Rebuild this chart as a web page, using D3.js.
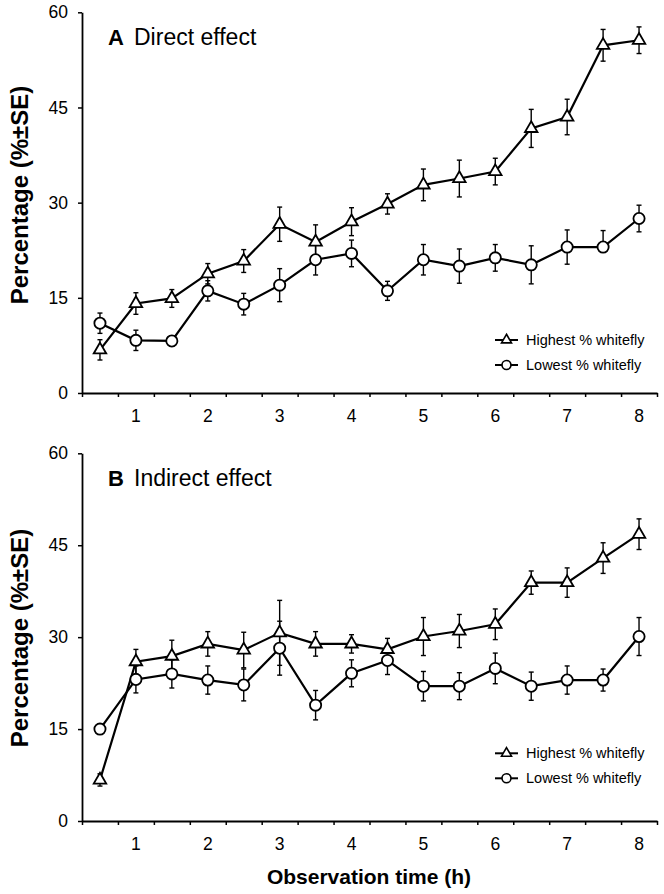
<!DOCTYPE html>
<html><head><meta charset="utf-8">
<script src="https://cdn.jsdelivr.net/npm/d3@7"></script>
<style>body{margin:0;background:#fff}svg{display:block}text{font-family:"Liberation Sans",Arial,sans-serif;fill:#000}</style>
</head><body>
<script>
const hours = ["0.5","1","1.5","2","2.5","3","3.5","4","4.5","5","5.5","6","6.5","7","7.5","8"];
const yTicks = [0,15,30,45,60];
const seriesNames = ["Highest % whitefly","Lowest % whitefly"];

const aHigh   = [6.8,14.1,14.9,18.8,20.8,26.6,23.8,27.0,29.8,32.8,33.8,34.9,41.7,43.5,54.8,55.6];
const aHighSE = [1.6,1.7,1.4,1.6,1.8,2.7,2.7,2.2,1.6,2.5,2.9,2.1,3.0,2.8,2.5,2.1];
const aLow    = [11.0,8.3,8.2,16.1,14.0,17.0,21.0,22.0,16.1,21.0,20.0,21.3,20.2,23.0,23.0,27.5];
const aLowSE  = [1.6,1.6,0.8,1.6,1.7,2.6,2.4,2.1,1.5,2.4,2.7,2.1,3.0,2.7,2.6,2.1];
const aLowSELower = [1.6,1.6,0.8,1.6,1.7,2.6,2.4,2.1,1.5,2.4,2.7,2.1,3.0,2.7,0,2.1];

const bHigh   = [6.7,26.0,26.9,28.9,27.9,30.7,28.9,28.9,28.0,30.1,31.0,32.1,38.9,38.9,42.9,46.8];
const bHighSE = [1.0,2.0,2.6,2.0,2.9,5.3,2.0,1.5,1.8,3.1,2.7,2.5,1.9,2.4,2.5,2.5];
const bLow    = [15.0,23.1,24.0,23.0,22.2,28.2,18.9,24.1,26.2,22.0,22.0,24.9,22.0,23.0,23.0,30.1];
const bLowSE  = [0.5,2.2,2.3,2.3,2.6,4.4,2.4,2.2,2.3,2.4,2.2,2.5,2.3,2.3,1.8,3.1];

const W = 664, H = 894;
const svg = d3.select("body").append("svg").attr("width", W).attr("height", H);

const x = d3.scaleBand().domain(hours).range([82, 657]).paddingInner(0).paddingOuter(0);
const xBound = d3.scaleLinear().domain([0, hours.length]).range([82, 657]);

function trianglePath(s) {
  const h = s * Math.sqrt(3) / 2;
  return `M0,${-h*2/3}L${s/2},${h/3}L${-s/2},${h/3}Z`;
}

function panel(cfg) {
  const y = d3.scaleLinear().domain([0, 60]).range([cfg.y0, cfg.y60]);
  const g = svg.append("g");

  // y axis
  const ya = g.append("g").attr("transform", "translate(82,0)")
    .call(d3.axisLeft(y).tickValues(yTicks).tickSize(4).tickSizeOuter(0).tickPadding(10));
  ya.select(".domain").attr("stroke-width", 1.8);
  ya.selectAll(".tick line").attr("stroke-width", 1.5);
  ya.selectAll(".tick text").style("font-size", "17.5px").style("font-family", "Liberation Sans, Arial, sans-serif");

  // x axis: ticks at band boundaries
  const xa = g.append("g").attr("transform", `translate(0,${cfg.y0})`)
    .call(d3.axisBottom(xBound).tickValues(d3.range(0, hours.length + 1)).tickSize(4).tickSizeOuter(0).tickFormat(""));
  xa.select(".domain").attr("stroke-width", 1.8);
  xa.selectAll(".tick line").attr("stroke-width", 1.5);
  // x labels at integer hours
  const xl = g.append("g").attr("transform", `translate(0,${cfg.y0})`)
    .call(d3.axisBottom(x).tickValues(hours.filter(h => Number.isInteger(+h))).tickSize(0).tickPadding(17));
  xl.select(".domain").remove();
  xl.selectAll(".tick text").style("font-size", "17.5px").style("font-family", "Liberation Sans, Arial, sans-serif");

  // y title
  g.append("text").attr("transform", `translate(28,${cfg.titleYc}) rotate(-90)`)
    .attr("text-anchor", "middle").style("font-size", "24px").style("font-weight", "bold")
    .text("Percentage (%±SE)");

  // panel title
  g.append("text").attr("x", 108).attr("y", cfg.y60 + 33).style("font-size", "22px").style("font-weight", "bold").text(cfg.letter);
  g.append("text").attr("x", 134).attr("y", cfg.y60 + 33).style("font-size", "23px").text(cfg.title);

  const series = [
    {vals: cfg.high, up: cfg.highSE, lo: cfg.highSE, type: "tri"},
    {vals: cfg.low, up: cfg.lowSE, lo: cfg.lowSELo || cfg.lowSE, type: "circ"}
  ];
  const cx = d => x(d) + x.bandwidth() / 2;
  const line = d3.line().x((d, i) => cx(hours[i])).y(d => y(d));

  series.forEach(s => {
    g.append("path").datum(s.vals).attr("d", line).attr("fill", "none").attr("stroke", "#000").attr("stroke-width", 2.2);
  });
  series.forEach(s => {
    const eb = g.append("g").attr("stroke", "#000").attr("stroke-width", 1.4);
    s.vals.forEach((v, i) => {
      const px = cx(hours[i]);
      const top = y(v + s.up[i]), bot = y(v - s.lo[i]);
      eb.append("line").attr("x1", px).attr("x2", px).attr("y1", top).attr("y2", bot);
      if (s.up[i] > 0) eb.append("line").attr("x1", px - 2.5).attr("x2", px + 2.5).attr("y1", top).attr("y2", top);
      if (s.lo[i] > 0) eb.append("line").attr("x1", px - 2.5).attr("x2", px + 2.5).attr("y1", bot).attr("y2", bot);
    });
  });
  series.forEach(s => {
    const mg = g.append("g");
    s.vals.forEach((v, i) => {
      const px = cx(hours[i]), py = y(v);
      if (s.type === "tri") {
        mg.append("path").attr("d", trianglePath(12.5)).attr("transform", `translate(${px},${py})`)
          .attr("fill", "#fff").attr("stroke", "#000").attr("stroke-width", 1.8);
      } else {
        mg.append("circle").attr("cx", px).attr("cy", py).attr("r", 5.6)
          .attr("fill", "#fff").attr("stroke", "#000").attr("stroke-width", 1.8);
      }
    });
  });

  // legend
  const lg = g.append("g");
  seriesNames.forEach((name, i) => {
    const ly = cfg.legY + i * 25;
    lg.append("line").attr("x1", 495).attr("x2", 518).attr("y1", ly).attr("y2", ly).attr("stroke", "#000").attr("stroke-width", 2);
    if (i === 0) {
      lg.append("path").attr("d", trianglePath(10)).attr("transform", `translate(506.5,${ly})`)
        .attr("fill", "#fff").attr("stroke", "#000").attr("stroke-width", 1.6);
    } else {
      lg.append("circle").attr("cx", 506.5).attr("cy", ly).attr("r", 4.5)
        .attr("fill", "#fff").attr("stroke", "#000").attr("stroke-width", 1.6);
    }
    lg.append("text").attr("x", 526).attr("y", ly + 5).style("font-size", "14.5px").text(name);
  });
}

panel({y0: 393, y60: 12.3, titleYc: 195, letter: "A", title: "Direct effect",
  high: aHigh, highSE: aHighSE, low: aLow, lowSE: aLowSE, lowSELo: aLowSELower, legY: 340});
panel({y0: 821, y60: 453.3, titleYc: 638, letter: "B", title: "Indirect effect",
  high: bHigh, highSE: bHighSE, low: bLow, lowSE: bLowSE, legY: 753.3});

svg.append("text").attr("x", 369).attr("y", 884).attr("text-anchor", "middle")
  .style("font-size", "21px").style("font-weight", "bold").text("Observation time (h)");
</script>
</body></html>
